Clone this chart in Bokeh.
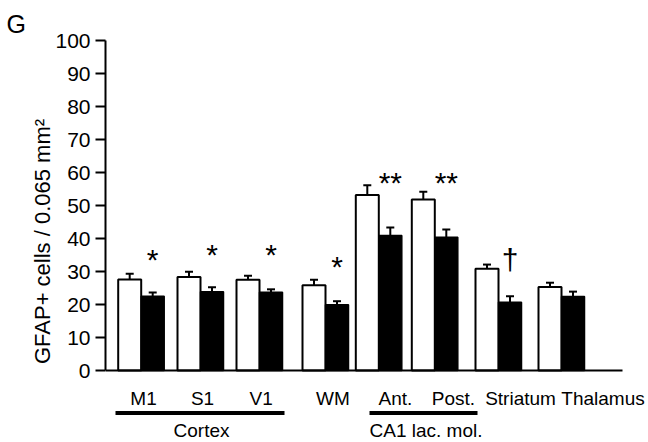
from bokeh.plotting import figure
from bokeh.models import Range1d, FixedTicker, ColumnDataSource
from bokeh.core.properties import value
from bokeh.embed import file_html
from bokeh.resources import INLINE

# ---- data ----
regions = ["M1", "S1", "V1", "WM", "Ant.", "Post.", "Striatum", "Thalamus"]
control_mean = [27.6, 28.3, 27.5, 25.8, 53.2, 51.8, 30.8, 25.3]
control_err = [1.7, 1.6, 1.2, 1.7, 2.9, 2.4, 1.3, 1.3]
treated_mean = [22.5, 23.9, 23.7, 19.9, 40.9, 40.4, 20.7, 22.4]
treated_err = [1.1, 1.3, 0.9, 1.1, 2.4, 2.3, 1.8, 1.5]
significance = ["*", "*", "*", "*", "**", "**", "\u2020", ""]
sig_level = [34.5, 36.1, 36.1, 32.4, 57.9, 57.9, 34.5, 0]
groups = ["Cortex", "CA1 lac. mol."]
y_ticks = [0, 10, 20, 30, 40, 50, 60, 70, 80, 90, 100]

# ---- layout (horizontal positions in frame pixels) ----
group_x = [35.7, 95.0, 154.0, 220.0, 273.3, 329.3, 393.0, 456.0]
label_x = [38.0, 97.0, 155.7, 227.5, 290.0, 348.0, 415.0, 497.5]
group_line = [(10.0, 179.0), (264.0, 372.0)]
group_label_x = [96.0, 320.5]
BAR_W = 23.0
CAP = 4.0
FONT = "Liberation Sans"

p = figure(width=648, height=442, output_backend="svg", toolbar_location=None,
           x_range=Range1d(0, 543), y_range=Range1d(-21.818, 100),
           x_axis_location=None, min_border_left=105, min_border_right=0,
           min_border_top=40, min_border_bottom=0, title="G")
p.title.text_font = FONT
p.title.text_font_size = "25px"
p.title.text_font_style = "normal"
p.title.text_color = "black"
p.title.align = "left"
p.title.offset = -99
p.title.standoff = 6
p.outline_line_color = None
p.grid.visible = False
p.background_fill_color = "white"
p.border_fill_color = "white"

ctrl_x = [g - BAR_W / 2 for g in group_x]
trt_x = [g + BAR_W / 2 for g in group_x]

# error bars (upper only)
for xs, m, e in ((ctrl_x, control_mean, control_err), (trt_x, treated_mean, treated_err)):
    tops = [a + b for a, b in zip(m, e)]
    p.segment(x0=xs, y0=m, x1=xs, y1=tops, line_color="black", line_width=2)
    p.segment(x0=[x - CAP for x in xs], y0=tops, x1=[x + CAP for x in xs], y1=tops,
              line_color="black", line_width=2)

p.vbar(x=ctrl_x, top=control_mean, bottom=0, width=BAR_W, fill_color="white",
       line_color="black", line_width=2)
p.vbar(x=trt_x, top=treated_mean, bottom=0, width=BAR_W, fill_color="black",
       line_color="black", line_width=1.5)

# baseline
p.segment(x0=[0], y0=[0], x1=[517], y1=[0], line_color="black", line_width=2)

# significance marks
sig_src = ColumnDataSource(dict(x=[x for x, s in zip(trt_x, significance) if s],
                                y=[y for y, s in zip(sig_level, significance) if s],
                                t=[s for s in significance if s]))
p.text(x="x", y="y", text="t", source=sig_src, text_align="center",
       text_baseline="middle", text_font=value(FONT), text_font_size="30px",
       text_color="black", y_offset=3)

# category labels
p.text(x=label_x, y=[-8.5] * len(regions), text=regions, text_align="center",
       text_baseline="middle", text_font=value(FONT), text_font_size="19px",
       text_color="black")

# group underlines and labels
p.segment(x0=[a for a, b in group_line], y0=[-12.9] * 2, x1=[b for a, b in group_line],
          y1=[-12.9] * 2, line_color="black", line_width=4)
p.text(x=group_label_x, y=[-18.3] * 2, text=groups, text_align="center",
       text_baseline="middle", text_font=value(FONT), text_font_size="19px",
       text_color="black")

# y axis
ax = p.yaxis[0]
ax.bounds = (0, 100)
ax.ticker = FixedTicker(ticks=y_ticks)
ax.minor_tick_line_color = None
ax.major_tick_out = 10
ax.major_tick_in = 0
ax.major_tick_line_width = 2
ax.axis_line_width = 2
ax.major_label_text_font = FONT
ax.major_label_text_font_size = "21px"
ax.major_label_text_color = "black"
ax.major_label_standoff = 5
ax.axis_label = "GFAP+ cells / 0.065 mm\u00b2"
ax.axis_label_text_font = FONT
ax.axis_label_text_font_size = "22px"
ax.axis_label_text_font_style = "normal"
ax.axis_label_text_color = "black"
ax.axis_label_standoff = -3

open("out.html", "w").write(file_html(p, INLINE))
